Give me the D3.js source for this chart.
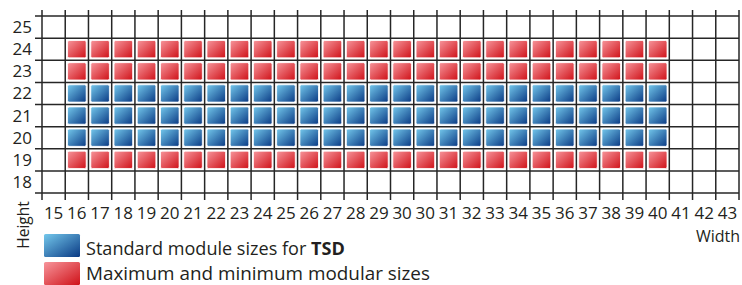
<!DOCTYPE html>
<meta charset="utf-8">
<style>
    body { margin: 0; background: #fff; }
    text { font-family: "Open Sans", sans-serif; fill: #231f20; }
    .grid line { stroke: #262626; stroke-width: 1.5px; }
</style>
<svg width="742" height="285"></svg>
<script src="https://d3js.org/d3.v7.min.js"></script>
<script>

    // tick labels as printed (note the doubled 30 in the original)
    var widthLabels = [15,16,17,18,19,20,21,22,23,24,25,26,27,28,29,30,30,31,32,33,34,35,36,37,38,39,40,41,42,43];
    var heightLabels = [25,24,23,22,21,20,19,18];

    // module rows and the width span they cover
    var standardHeights = [22,21,20];
    var extremeHeights = [24,23,19];
    var moduleWidthMin = 16, moduleWidthMax = 40;

    var legendItems = ["standard", "extreme"];

    var svg = d3.select("svg");
    var defs = svg.append("defs");

    var gLeft = 42, gRight = 739, gTop = 16, gBottom = 193;

    var x = d3.scaleBand().domain(d3.range(widthLabels.length)).range([gLeft, gRight]);
    var y = d3.scaleBand().domain(heightLabels).range([gTop, gBottom]);

    function grad(id, c0, c1) {
        var g = defs.append("linearGradient").attr("id", id)
            .attr("x1", 0).attr("y1", 0).attr("x2", 1).attr("y2", 1);
        g.append("stop").attr("offset", "0%").attr("stop-color", c0);
        g.append("stop").attr("offset", "100%").attr("stop-color", c1);
    }
    grad("blue", "#74c8ec", "#0a3a84");
    grad("red", "#f7959b", "#cf1118");

    // grid
    var grid = svg.append("g").attr("class", "grid");
    var xEdges = x.domain().map(function(d) { return x(d); }).concat([gRight]);
    var yEdges = y.domain().map(function(d) { return y(d); }).concat([gBottom]);

    grid.selectAll(".v").data(xEdges).enter().append("line")
        .attr("x1", function(d) { return d; }).attr("x2", function(d) { return d; })
        .attr("y1", gTop - 6).attr("y2", gBottom + 7);
    grid.selectAll(".h").data(yEdges).enter().append("line")
        .attr("y1", function(d) { return d; }).attr("y2", function(d) { return d; })
        .attr("x1", gLeft - 7).attr("x2", gRight);

    // modules
    var cols = x.domain().filter(function(i) {
        return widthLabels[i] >= moduleWidthMin && widthLabels[i] <= moduleWidthMax;
    });
    var cells = [];
    standardHeights.forEach(function(h) { cols.forEach(function(c) { cells.push({c: c, h: h, fill: "url(#blue)"}); }); });
    extremeHeights.forEach(function(h) { cols.forEach(function(c) { cells.push({c: c, h: h, fill: "url(#red)"}); }); });

    var padX = 2.3, padY = 2.4;
    svg.append("g").selectAll("rect").data(cells).enter().append("rect")
        .attr("x", function(d) { return x(d.c) + padX; })
        .attr("y", function(d) { return y(d.h) + padY; })
        .attr("width", x.bandwidth() - 2 * padX)
        .attr("height", y.bandwidth() - 2 * padY)
        .attr("rx", 1.5)
        .attr("fill", function(d) { return d.fill; })
        .attr("stroke", "#ffffff")
        .attr("stroke-width", 0.8);

    // tick labels
    svg.append("g").selectAll("text").data(x.domain()).enter().append("text")
        .attr("x", function(d) { return x(d) + x.bandwidth() / 2; })
        .attr("y", 219)
        .attr("text-anchor", "middle")
        .style("font-size", "17px")
        .text(function(d) { return widthLabels[d]; });

    svg.append("g").selectAll("text").data(heightLabels).enter().append("text")
        .attr("x", 32)
        .attr("y", function(d) { return y(d) + y.bandwidth() / 2 + 6; })
        .attr("text-anchor", "end")
        .style("font-size", "17px")
        .text(function(d) { return d; });

    svg.append("text")
        .attr("x", 740).attr("y", 242)
        .attr("text-anchor", "end")
        .style("font-size", "16px")
        .text("Width");

    svg.append("text")
        .attr("transform", "translate(28.5,225) rotate(-90)")
        .attr("text-anchor", "middle")
        .style("font-size", "15.5px")
        .text("Height");

    // legend
    var legendY = [234, 262];
    var lg = svg.append("g").selectAll("g").data(legendItems).enter().append("g")
        .attr("transform", function(d, i) { return "translate(44," + legendY[i] + ")"; });
    lg.append("rect")
        .attr("width", 36).attr("height", 23).attr("rx", 1.5)
        .attr("fill", function(d) { return d === "standard" ? "url(#blue)" : "url(#red)"; });

    var t1 = svg.append("text").attr("x", 86).attr("y", 255).style("font-size", "18px");
    t1.append("tspan").text("Standard module sizes for ");
    t1.append("tspan").style("font-weight", "bold").text("TSD");
    var t2 = svg.append("text").attr("x", 86).attr("y", 280).style("font-size", "18px")
        .text("Maximum and minimum modular sizes");

    // squeeze to the narrower original face
    [[t1, 259], [t2, 344]].forEach(function(p) {
        var w = p[0].node().getComputedTextLength();
        var k = p[1] / w;
        p[0].attr("transform", "translate(" + (86 - 86 * k) + ",0) scale(" + k + ",1)");
    });

</script>
